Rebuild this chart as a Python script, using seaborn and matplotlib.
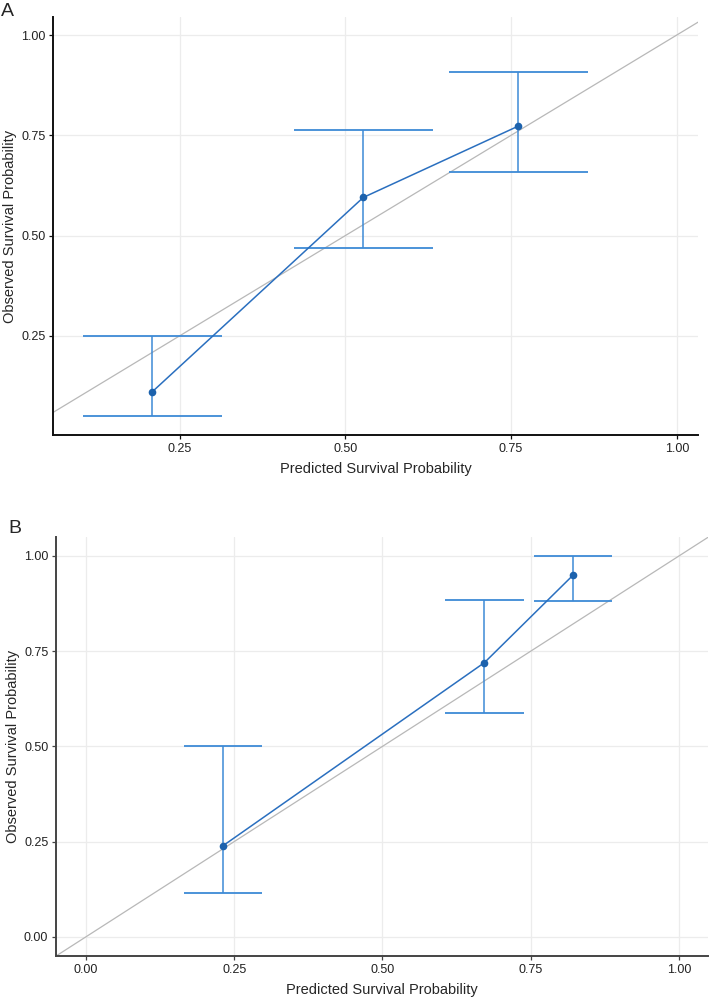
import matplotlib
matplotlib.use('Agg')
import matplotlib.pyplot as plt
import seaborn as sns
import pandas as pd

# panel A: calibration points with 95% CI
pred_a = [0.209, 0.527, 0.761]
obs_a = [0.111, 0.595, 0.773]
low_a = [0.050, 0.468, 0.658]
high_a = [0.250, 0.762, 0.907]

# panel B
pred_b = [0.231, 0.672, 0.821]
obs_b = [0.239, 0.720, 0.949]
low_b = [0.115, 0.587, 0.883]
high_b = [0.500, 0.885, 1.000]

ticks_a = [0.25, 0.50, 0.75, 1.00]
ticks_b = [0.00, 0.25, 0.50, 0.75, 1.00]

line_col = '#2a6fbf'
bar_col = '#3d8ad6'
diag_col = '#b8b8b8'


def calib_panel(ax, pred, obs, low, high, cap, xlim, ylim, ticks, spine_col):
    df = pd.DataFrame({'pred': pred, 'obs': obs})
    ax.axline((0, 0), (1, 1), color=diag_col, lw=0.9, zorder=1)
    ax.vlines(pred, low, high, color=bar_col, lw=1.1, zorder=2)
    ax.hlines(low, [p - cap for p in pred], [p + cap for p in pred],
              color=bar_col, lw=1.3, zorder=2)
    ax.hlines(high, [p - cap for p in pred], [p + cap for p in pred],
              color=bar_col, lw=1.3, zorder=2)
    sns.lineplot(data=df, x='pred', y='obs', ax=ax, color=line_col, lw=1.1,
                 marker='o', markersize=5.5, markeredgewidth=0,
                 markerfacecolor='#1c62ad', zorder=3)
    ax.set_xlim(*xlim)
    ax.set_ylim(*ylim)
    ax.set_xticks(ticks)
    ax.set_yticks(ticks)
    ax.set_xticklabels([f'{t:.2f}' for t in ticks])
    ax.set_yticklabels([f'{t:.2f}' for t in ticks])
    ax.set_xlabel('Predicted Survival Probability', fontsize=10.5, labelpad=5)
    ax.set_ylabel('Observed Survival Probability', fontsize=10.5, labelpad=3)
    ax.grid(True, color='#ececec', lw=0.9)
    for s in ['top', 'right']:
        ax.spines[s].set_visible(False)
    for s in ['left', 'bottom']:
        ax.spines[s].set_color(spine_col)
        ax.spines[s].set_linewidth(1.4)
    ax.tick_params(axis='both', which='both', length=3, width=0.9,
                   color=spine_col, labelsize=9, labelcolor='#222222',
                   direction='out', pad=2.5, left=True, bottom=True)


sns.set_theme(style='whitegrid')
plt.rcParams['font.family'] = ['Liberation Sans', 'DejaVu Sans']

fig = plt.figure(figsize=(7.09, 9.98), dpi=100)
ax1 = fig.add_axes([0.0748, 0.564, 0.9097, 0.419])
ax2 = fig.add_axes([0.079, 0.042, 0.9196, 0.420])

calib_panel(ax1, pred_a, obs_a, low_a, high_a, 0.105,
            (0.059, 1.032), (0.0025, 1.045), ticks_a, '#111111')
calib_panel(ax2, pred_b, obs_b, low_b, high_b, 0.066,
            (-0.0506, 1.049), (-0.0507, 1.05), ticks_b, '#444444')

fig.text(0.002, 0.988, 'A', fontsize=14, va='center', ha='left')
fig.text(0.012, 0.470, 'B', fontsize=14, va='center', ha='left')

fig.savefig('out.png', dpi=100, facecolor='white')
